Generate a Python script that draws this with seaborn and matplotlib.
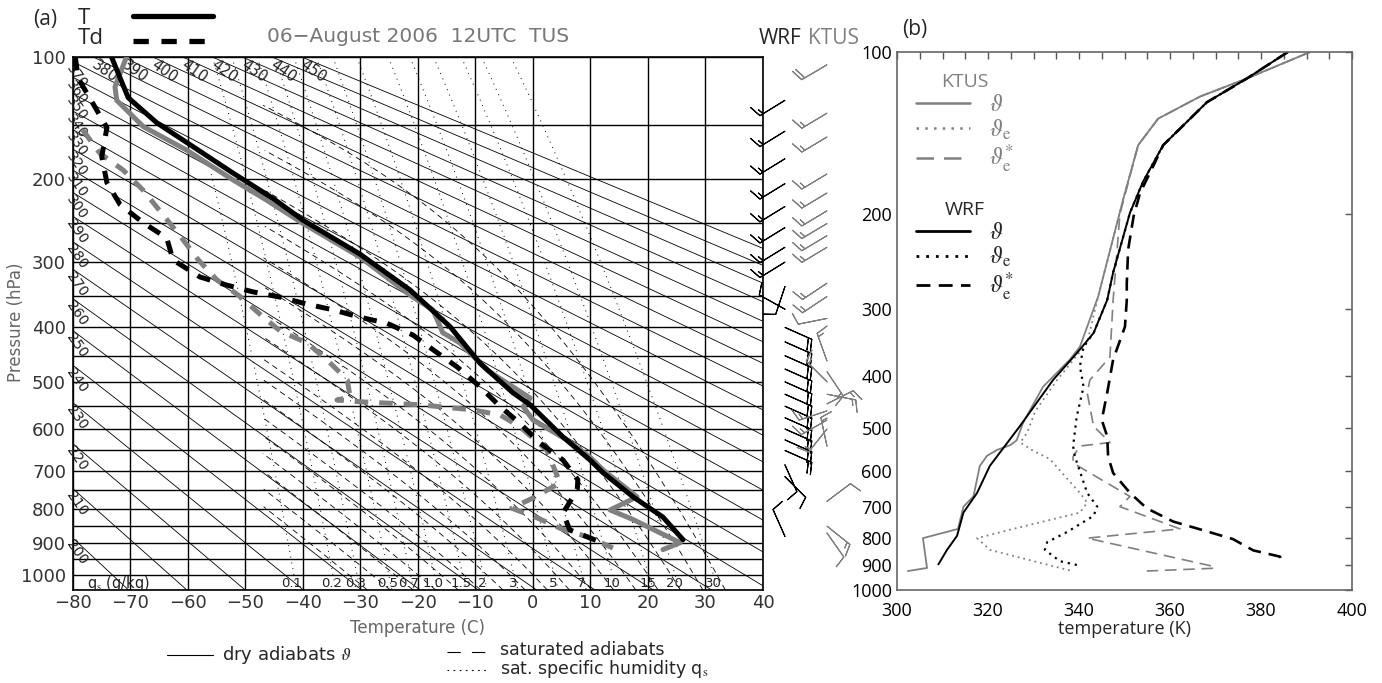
import numpy as np
import seaborn as sns
import matplotlib
matplotlib.use('Agg')
from matplotlib import pyplot as plt
from matplotlib.lines import Line2D

### sounding data, panel (a): pressure (hPa) and temperature (C)

wrf_t_p = [100, 128, 148, 165, 194, 221, 246, 289, 340, 399, 464, 522, 547, 618, 673, 705, 768, 824, 890]
wrf_t = [-73.3, -70.4, -65.4, -60.2, -52.2, -45.2, -40.0, -30.1, -21.4, -14.4, -9.2, -3.5, -0.5, 5.2, 9.9, 12.2, 17.4, 22.6, 26.1]

kt_t_p = [100, 120, 130, 151, 172, 201, 223, 250, 293, 351, 371, 409, 427, 477, 533, 551, 580, 625, 666, 698, 768, 804, 831, 899, 920]
kt_t = [-70.7, -72.7, -72.4, -67.8, -60.2, -52.2, -46.3, -40.0, -30.1, -20.9, -17.4, -15.7, -12.7, -8.0, -0.5, -1.7, 0.0, 5.9, 9.9, 12.2, 18.1, 13.4, 17.4, 25.6, 22.6]

wrf_td_p = [100, 114, 135, 152, 178, 204, 228, 249, 268, 297, 321, 333, 343, 351, 362, 371, 383, 393, 413, 439, 471, 510, 551, 587, 632, 673, 723, 749, 795, 812, 861, 897]
wrf_td = [-79.6, -79.1, -76.2, -74.1, -75.0, -74.1, -71.8, -67.8, -63.7, -62.6, -57.9, -53.2, -48.7, -44.0, -39.3, -34.8, -30.1, -25.4, -20.9, -17.4, -13.2, -9.2, -5.7, -2.3, 1.2, 5.2, 7.8, 7.7, 5.9, 5.2, 6.4, 11.7]

kt_td_p = [154, 175, 191, 212, 240, 267, 296, 325, 349, 378, 406, 427, 458, 496, 531, 537, 541, 547, 558, 569, 595, 649, 731, 771, 799, 826, 856, 881, 915]
kt_td = [-78.3, -75.3, -71.3, -67.8, -64.3, -61.2, -58.3, -55.0, -51.1, -47.5, -44.0, -39.3, -35.8, -32.3, -31.8, -34.1, -29.6, -19.7, -10.4, -5.7, -2.3, 2.4, 4.7, 0.0, -3.7, 0.7, 4.7, 9.4, 13.9]

### wind barbs (knots)

wrf_barb_p = [130, 155, 180, 205, 230, 255, 280, 300, 335, 370, 400, 425, 450, 475, 500, 525, 550, 575, 600, 625, 650, 685, 715, 880]
wrf_barb_u = [13, 13, 13, 13, 13, 13, 13, 13, 3, 9, -18, -18, -18, -18, -18, -18, -18, -18, -18, -18, -18, -4, -6, 4]
wrf_barb_v = [8, 8, 8, 8, 8, 8, 8, 8, 9, -5, 8, 8, 8, 8, 8, 8, 8, 8, 8, 8, 8, 9, 6, -9]

kt_barb_p = [105, 140, 160, 195, 215, 235, 250, 265, 280, 330, 350, 385, 460, 480, 500, 525, 545, 560, 580, 600, 640, 780, 850, 870]
kt_barb_u = [17, 15, 15, 15, 15, 15, 15, 15, 15, 12, 12, 10, 5, -8, 10, -15, -12, 15, 14, 8, 3, -8, -10, -7]
kt_barb_v = [10, 9, 9, 9, 9, 9, 9, 9, 9, 8, 8, 2, -14, 12, -10, 3, -6, 5, 8, 10, -14, -6, 8, 10]

### diagram background levels

theta_levels = list(range(200, 460, 10))
theta_left_labels = list(range(200, 380, 10))
theta_top_labels = list(range(380, 460, 10))
satad_t0 = list(range(-32, 36, 4))
qs_levels = [0.1, 0.2, 0.3, 0.5, 0.7, 1.0, 1.5, 2, 3, 5, 7, 10, 15, 20, 30]
qs_labels = ['0.1', '0.2', '0.3', '0.5', '0.7', '1.0', '1.5', '2', '3', '5', '7', '10', '15', '20', '30']

### panel (b): potential temperatures (K)

kt_th_p = [100, 112, 121, 133, 149, 188, 285, 353, 373, 419, 489, 527, 538, 549, 563, 588, 670, 700, 770, 801, 910, 922]
kt_th = [390.8, 376.9, 366.6, 357.4, 353.0, 349.7, 344.2, 340.2, 338.0, 332.1, 327.7, 326.3, 324.9, 322.0, 319.8, 318.2, 316.8, 314.6, 313.4, 305.7, 306.6, 302.4]

kt_the_p = [100, 112, 121, 133, 149, 188, 285, 347, 407, 465, 510, 532, 551, 571, 621, 660, 688, 718, 770, 801, 842, 890, 922]
kt_the = [390.8, 376.9, 366.6, 357.4, 353.0, 349.7, 344.2, 341.8, 335.2, 330.4, 328.6, 327.1, 329.9, 333.6, 337.4, 340.2, 341.8, 340.2, 325.5, 317.6, 320.4, 331.4, 338.5]

kt_thes_p = [100, 112, 121, 133, 149, 200, 289, 369, 407, 430, 496, 532, 540, 565, 581, 670, 700, 770, 801, 901, 911, 922]
kt_thes = [390.8, 376.9, 366.6, 357.4, 353.0, 349.0, 347.5, 346.8, 342.4, 341.8, 343.2, 346.8, 340.2, 338.7, 338.7, 351.2, 349.0, 362.2, 341.8, 368.8, 369.9, 354.9]

wrf_th_p = [100, 112, 124, 149, 174, 199, 257, 289, 333, 363, 407, 496, 588, 660, 718, 793, 842, 896]
wrf_th = [385.9, 376.9, 368.1, 358.5, 354.1, 351.2, 347.5, 346.2, 343.2, 339.5, 334.3, 327.0, 320.4, 317.6, 314.6, 313.2, 311.0, 309.1]

wrf_the_p = [100, 112, 124, 149, 174, 199, 257, 289, 333, 353, 384, 419, 476, 540, 565, 660, 700, 728, 780, 815, 842, 884, 901]
wrf_the = [385.9, 376.9, 368.1, 358.5, 354.1, 351.2, 347.5, 346.2, 343.2, 341.0, 340.2, 341.0, 339.5, 338.7, 339.1, 341.8, 344.0, 343.2, 337.4, 333.0, 332.5, 335.8, 340.2]

wrf_thes_p = [100, 112, 124, 149, 163, 183, 202, 233, 269, 289, 324, 373, 430, 483, 518, 565, 606, 660, 705, 746, 778, 804, 844, 867, 890]
wrf_thes = [385.9, 376.9, 368.1, 358.5, 356.3, 353.4, 352.0, 350.8, 350.5, 350.5, 350.1, 347.5, 346.2, 345.0, 346.2, 346.4, 347.5, 351.2, 354.9, 360.7, 368.1, 373.8, 378.3, 384.2, 384.6]

# ---------------------------------------- #

sns.set_style('white')
plt.rcParams['font.family'] = ['DejaVu Sans']
plt.rcParams['mathtext.fontset'] = 'stix'

GRAY = '#808080'
KAPPA = 0.286
W, H = 1382, 683

def fx(x):
    return x / W

def fy(y):
    return 1 - y / H

def p_fwd(p):
    return np.sign(p) * np.abs(p) ** KAPPA

def p_inv(y):
    return np.sign(y) * np.abs(y) ** (1 / KAPPA)

fig = plt.figure(figsize=(W / 100, H / 100), dpi=100)

### panel (a): Stuve diagram

ax = fig.add_axes([fx(73), fy(590), (763 - 73) / W, (590 - 57) / H])
ax.set_yscale('function', functions=(p_fwd, p_inv))
ax.set_xlim(-80, 40)
ax.set_ylim(1050, 100)

p_line = np.geomspace(100, 1050, 300)

# dry adiabats
for th in theta_levels:
    ax.plot(th * (p_line / 1000) ** KAPPA - 273.15, p_line, color='black', lw=0.6, zorder=1)

# saturated (pseudo) adiabats
Rd, cp, Lv, eps = 287.04, 1005.7, 2.501e6, 0.622

def es(tc):
    return 6.112 * np.exp(17.67 * tc / (tc + 243.5))

def moist_path(t0, p_start, p_end):
    ps = np.linspace(p_start, p_end, 400)
    tk = t0 + 273.15
    out = [tk]
    for i in range(1, len(ps)):
        p = ps[i - 1]
        e = es(tk - 273.15)
        rs = eps * e / (p - e)
        dtdp = (Rd * tk + Lv * rs) / (p * (cp + Lv ** 2 * rs * eps / (Rd * tk ** 2)))
        tk = tk + dtdp * (ps[i] - p)
        out.append(tk)
    return ps, np.array(out) - 273.15

for t0 in satad_t0:
    pu, tu = moist_path(t0, 1000, 100)
    pd, td = moist_path(t0, 1000, 1050)
    pp = np.concatenate([pd[::-1], pu])
    tt = np.concatenate([td[::-1], tu])
    tt = np.where(tt < -47, np.nan, tt)
    ax.plot(tt, pp, color='black', lw=0.6, linestyle=(0, (7, 5)), zorder=1)

# saturation specific humidity
for q, lab in zip(qs_levels, qs_labels):
    e = q / 1000 * p_line / (eps + q / 1000)
    ln = np.log(e / 6.112)
    tq = 243.5 * ln / (17.67 - ln)
    tq = np.where(tq < -56, np.nan, tq)
    ax.plot(tq, p_line, color='black', lw=0.7, linestyle=(0, (1, 5)), zorder=1)
    el = q / 1000 * 1030 / (eps + q / 1000)
    lnl = np.log(el / 6.112)
    ax.text(243.5 * lnl / (17.67 - lnl) - 0.6, 1028, lab,
            fontsize=9.5, ha='center', va='center', color='#222222', zorder=4)
ax.text(-77.5, 1028, r'q$_{\rm s}$ (g/kg)', fontsize=10.5, ha='left', va='center', color='#222222')

# dry adiabat labels
for th in theta_left_labels:
    pc = 1000 * (193.15 / th) ** (1 / KAPPA)
    ax.text(-79.6, pc, str(th), fontsize=10, rotation=-55, rotation_mode='anchor',
            ha='left', va='top', color='#222222', zorder=4)
for th in theta_top_labels:
    tc = th * 0.1 ** KAPPA - 273.15
    ax.text(tc + 0.8, 100, str(th), fontsize=10.5, rotation=-35, rotation_mode='anchor',
            ha='left', va='top', color='#222222', zorder=4)

# grid
p_grid = list(range(100, 1051, 50))
ax.set_xticks(range(-80, 41, 10))
ax.set_yticks(p_grid)
ax.set_yticklabels([str(p) if p % 100 == 0 and p <= 1000 else '' for p in p_grid])
ax.grid(True, color='black', lw=1.0, zorder=2)
ax.set_axisbelow(False)
ax.tick_params(length=0, labelsize=13, labelcolor='#333333', pad=5)
ax.tick_params(axis='x', pad=3)
for s in ax.spines.values():
    s.set_color('black')
    s.set_linewidth(1.2)

# profiles
sns.lineplot(x=wrf_t, y=wrf_t_p, sort=False, estimator=None, color='black', lw=3.6, ax=ax, zorder=6)
sns.lineplot(x=kt_t, y=kt_t_p, sort=False, estimator=None, color=GRAY, lw=3.6, ax=ax, zorder=5)
sns.lineplot(x=wrf_td, y=wrf_td_p, sort=False, estimator=None, color='black', lw=3.6,
             linestyle=(0, (2.7, 2.2)), ax=ax, zorder=6)
sns.lineplot(x=kt_td, y=kt_td_p, sort=False, estimator=None, color=GRAY, lw=3.6,
             linestyle=(0, (2.7, 2.2)), ax=ax, zorder=5)
ax.set_xlim(-80, 40)
ax.set_ylim(1050, 100)
ax.set_xlabel('')
ax.set_ylabel('')

### wind barbs beside panel (a)

bax = fig.add_axes([fx(740), fy(590), 145 / W, (590 - 57) / H])
bax.set_yscale('function', functions=(p_fwd, p_inv))
bax.set_ylim(1050, 100)
bax.set_xlim(0, 1)
bax.axis('off')
bax.barbs([0.31] * len(wrf_barb_p), wrf_barb_p, wrf_barb_u, wrf_barb_v,
          color='black', length=6.5, linewidth=0.8)
bax.barbs([0.6] * len(kt_barb_p), kt_barb_p, kt_barb_u, kt_barb_v,
          color=GRAY, length=6.5, linewidth=0.8)

### panel (b)

ax2 = fig.add_axes([fx(897), fy(590), (1352 - 897) / W, (590 - 52) / H])
ax2.set_yscale('log')
sns.lineplot(x=kt_th, y=kt_th_p, sort=False, estimator=None, color=GRAY, lw=1.3, ax=ax2)
sns.lineplot(x=kt_the, y=kt_the_p, sort=False, estimator=None, color=GRAY, lw=1.3,
             linestyle=(0, (1, 2.2)), ax=ax2)
sns.lineplot(x=kt_thes, y=kt_thes_p, sort=False, estimator=None, color=GRAY, lw=1.2,
             linestyle=(0, (7, 4)), ax=ax2)
sns.lineplot(x=wrf_th, y=wrf_th_p, sort=False, estimator=None, color='black', lw=1.4, ax=ax2)
sns.lineplot(x=wrf_the, y=wrf_the_p, sort=False, estimator=None, color='black', lw=1.6,
             linestyle=(0, (1, 2.2)), ax=ax2)
sns.lineplot(x=wrf_thes, y=wrf_thes_p, sort=False, estimator=None, color='black', lw=1.9,
             linestyle=(0, (5, 3)), ax=ax2)
ax2.set_xlim(300, 400)
ax2.set_ylim(1000, 100)
y_ticks = list(range(100, 1001, 100))
ax2.set_yticks(y_ticks)
ax2.set_yticklabels([str(p) for p in y_ticks])
ax2.yaxis.set_minor_locator(matplotlib.ticker.NullLocator())
ax2.set_xticks(range(300, 401, 20))
ax2.xaxis.set_minor_locator(matplotlib.ticker.MultipleLocator(5))
ax2.tick_params(which='both', direction='in', top=True, right=True, length=5, width=1,
                color='#555555', labelsize=13, labelcolor='black')
ax2.tick_params(axis='x', pad=9)
for lab in ax2.get_xticklabels() + ax2.get_yticklabels():
    lab.set_family('Open Sans')
for s in ax2.spines.values():
    s.set_color('#666666')
    s.set_linewidth(1.2)
ax2.set_xlabel('temperature (K)', fontsize=13, family='Open Sans', labelpad=0)
ax2.set_ylabel('')

labels_b = [r'$\vartheta$', r'$\vartheta_{\mathrm{e}}$', r'$\vartheta_{\mathrm{e}}^{*}$']
h_kt = [Line2D([], [], color=GRAY, lw=1.8),
        Line2D([], [], color=GRAY, lw=1.8, linestyle=(0, (1, 2.5))),
        Line2D([], [], color=GRAY, lw=1.8, linestyle=(0, (7, 4)))]
h_wrf = [Line2D([], [], color='black', lw=2),
         Line2D([], [], color='black', lw=2, linestyle=(0, (1, 2.5))),
         Line2D([], [], color='black', lw=2, linestyle=(0, (5, 3)))]
leg1 = ax2.legend(h_kt, labels_b, title='KTUS', loc='upper left', bbox_to_anchor=(-0.005, 1.0),
                  frameon=False, fontsize=17, title_fontsize=14, handlelength=2.3,
                  handletextpad=0.8, labelspacing=0.05)
leg1.get_title().set_color(GRAY)
leg1.get_title().set_family('Open Sans')
for t in leg1.get_texts():
    t.set_color(GRAY)
ax2.add_artist(leg1)
leg2 = ax2.legend(h_wrf, labels_b, title='WRF', loc='upper left', bbox_to_anchor=(-0.005, 0.763),
                  frameon=False, fontsize=17, title_fontsize=14, handlelength=2.3,
                  handletextpad=0.8, labelspacing=0.05)
leg2.get_title().set_family('Open Sans')

### figure texts and keys

fig.text(fx(33), fy(19), '(a)', fontsize=15, family='Open Sans', va='center')
fig.text(fx(902), fy(30), '(b)', fontsize=15, family='Open Sans', va='center')
fig.text(fx(78), fy(18), 'T', fontsize=16, family='Open Sans', va='center')
fig.text(fx(78), fy(38), 'Td', fontsize=16, family='Open Sans', va='center')
fig.add_artist(Line2D([fx(133), fx(213)], [fy(16), fy(16)], color='black', lw=3.8))
fig.add_artist(Line2D([fx(133), fx(205)], [fy(41), fy(41)], color='black', lw=3.8,
                      linestyle=(0, (2.9, 2.4))))
fig.text(fx(267), fy(37), '06\u2212August 2006  12UTC  TUS', fontsize=14.5, color='#777777', va='center')
fig.text(fx(759), fy(38), 'WRF', fontsize=15, family='Open Sans', va='center')
fig.text(fx(808), fy(38), 'KTUS', fontsize=15, family='Open Sans', color=GRAY, va='center')

fig.text(fx(418), fy(628), 'Temperature (C)', fontsize=12, color='#666666', ha='center', va='center')
fig.text(fx(16), fy(322), 'Pressure (hPa)', fontsize=12, color='#666666', rotation=90,
         ha='center', va='center')

fig.add_artist(Line2D([fx(167), fx(213)], [fy(655), fy(655)], color='black', lw=0.8))
fig.text(fx(222), fy(655), r'dry adiabats $\vartheta$', fontsize=13, va='center')
fig.add_artist(Line2D([fx(447), fx(488)], [fy(652), fy(652)], color='black', lw=0.8,
                      linestyle=(0, (12, 10))))
fig.text(fx(500), fy(650), 'saturated adiabats', fontsize=12.5, va='center')
fig.add_artist(Line2D([fx(447), fx(488)], [fy(670), fy(670)], color='black', lw=0.8,
                      linestyle=(0, (1.5, 4))))
fig.text(fx(500), fy(669), r'sat. specific humidity q$_{\rm s}$', fontsize=12.5, va='center')

plt.savefig('out.png', dpi=100)
